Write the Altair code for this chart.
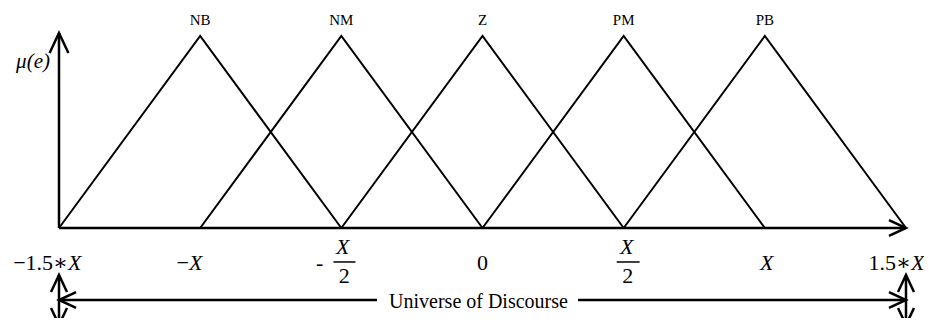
import altair as alt
import pandas as pd

# ---- membership functions (in units of X) ----
set_names = ["NB", "NM", "Z", "PM", "PB"]
left_feet = [-1.5, -1.0, -0.5, 0.0, 0.5]
peaks = [-1.0, -0.5, 0.0, 0.5, 1.0]
right_feet = [-0.5, 0.0, 0.5, 1.0, 1.5]
peak_mu = [1.0, 1.0, 1.0, 1.0, 1.0]
foot_mu = [0.0, 0.0, 0.0, 0.0, 0.0]

# ---- axis tick labels ----
tick_values = [-1.5, -1.0, -0.5, 0.0, 0.5, 1.0, 1.5]
tick_labels = ["−1.5∗X", "−X", "−X/2", "0", "X/2", "X", "1.5∗X"]

universe_label = "Universe of Discourse"
y_label = "μ(e)"

rows = []
for n, a, p, b, fm, pm in zip(set_names, left_feet, peaks, right_feet, foot_mu, peak_mu):
    rows += [
        {"set": n, "x": a, "mu": fm, "o": 0},
        {"set": n, "x": p, "mu": pm, "o": 1},
        {"set": n, "x": b, "mu": fm, "o": 2},
    ]
tri = pd.DataFrame(rows)

X = alt.Scale(domain=[-1.68064, 1.56375], nice=False, zero=False)
Y = alt.Scale(domain=[-0.46875, 1.14583], nice=False, zero=False)

def xe(f):
    return alt.X(f, type="quantitative", scale=X, axis=None)

def ye(f):
    return alt.Y(f, type="quantitative", scale=Y, axis=None)

FONT = "'Liberation Serif', 'Times New Roman', 'DejaVu Serif', serif"

tri_layer = alt.Chart(tri).mark_line(color="black", strokeWidth=2).encode(
    x=xe("x"), y=ye("mu"), detail="set:N", order="o:Q"
)

# axes lines
axes_df = pd.DataFrame({
    "seg": ["xaxis", "xaxis", "yaxis", "yaxis",
            "uL", "uL", "uR", "uR",
            "vL", "vL", "vR", "vR"],
    "x": [tick_values[0], tick_values[-1], tick_values[0], tick_values[0],
          tick_values[0], -0.3737, 0.3383, tick_values[-1],
          tick_values[0], tick_values[0], tick_values[-1], tick_values[-1]],
    "y": [0, 0, 0, 1.0156,
          -0.375, -0.375, -0.375, -0.375,
          -0.2448, -0.51, -0.2448, -0.51],
})
axes_layer = alt.Chart(axes_df).mark_line(color="black", strokeWidth=2.5).encode(
    x=xe("x"), y=ye("y"), detail="seg:N"
)

CHEV = "M -0.47 1 L 0 0 L 0.47 1"
arrows_df = pd.DataFrame({
    "x": [tick_values[0], tick_values[-1], tick_values[0], tick_values[-1],
          tick_values[0], tick_values[0], tick_values[-1], tick_values[-1]],
    "y": [1.0156, 0, -0.375, -0.375, -0.2448, -0.505, -0.2448, -0.505],
    "angle": [0, 90, 270, 90, 0, 180, 0, 180],
    "big": [1, 0, 0, 0, 0, 0, 0, 0],
})
arrow_big = alt.Chart(arrows_df).transform_filter("datum.big == 1").mark_point(
    shape=CHEV, filled=False, color="black", strokeWidth=2.5, opacity=1, size=1600
).encode(x=xe("x"), y=ye("y"), angle=alt.Angle("angle:Q", scale=None))
arrow_small = alt.Chart(arrows_df).transform_filter("datum.big == 0").mark_point(
    shape=CHEV, filled=False, color="black", strokeWidth=2.5, opacity=1, size=1156
).encode(x=xe("x"), y=ye("y"), angle=alt.Angle("angle:Q", scale=None))

# fraction bars
bars_df = pd.DataFrame({
    "seg": ["a", "a", "b", "b"],
    "x": [-0.528, -0.450, 0.4752, 0.5566],
    "y": [-0.177, -0.177, -0.177, -0.177],
})
bars_layer = alt.Chart(bars_df).mark_line(color="black", strokeWidth=1.5).encode(
    x=xe("x"), y=ye("y"), detail="seg:N"
)

# text annotations
ann = pd.DataFrame(
    [{"text": n, "x": p, "y": 1.081, "g": "set"} for n, p in zip(set_names, peaks)]
    + [
        {"text": y_label, "x": -1.592, "y": 0.865, "g": "mu"},
        {"text": "−1.5∗", "x": -1.468, "y": -0.182, "g": "r"},
        {"text": "X", "x": -1.468, "y": -0.182, "g": "li"},
        {"text": "−", "x": -1.0395, "y": -0.182, "g": "r"},
        {"text": "X", "x": -1.0395, "y": -0.182, "g": "li"},
        {"text": "-", "x": -0.577, "y": -0.182, "g": "c"},
        {"text": "X", "x": -0.495, "y": -0.099, "g": "ci"},
        {"text": "2", "x": -0.49, "y": -0.250, "g": "c"},
        {"text": tick_labels[3], "x": tick_values[3], "y": -0.182, "g": "c"},
        {"text": "X", "x": 0.511, "y": -0.099, "g": "ci"},
        {"text": "2", "x": 0.5145, "y": -0.250, "g": "c"},
        {"text": "X", "x": 1.007, "y": -0.182, "g": "ci"},
        {"text": "1.5∗", "x": 1.5177, "y": -0.182, "g": "r"},
        {"text": "X", "x": 1.5177, "y": -0.182, "g": "li"},
        {"text": universe_label, "x": -0.0142, "y": -0.3854, "g": "u"},
    ]
)

def txt(group, **kw):
    return alt.Chart(ann).transform_filter(f"datum.g == '{group}'").mark_text(
        font=FONT, color="black", baseline="middle", **kw
    ).encode(x=xe("x"), y=ye("y"), text="text:N")

text_layers = [
    txt("set", fontSize=15, align="center"),
    txt("mu", fontSize=21, align="center", fontStyle="italic"),
    txt("r", fontSize=22, align="right"),
    txt("li", fontSize=22, align="left", fontStyle="italic"),
    txt("c", fontSize=22, align="center"),
    txt("ci", fontSize=22, align="center", fontStyle="italic"),
    txt("u", fontSize=20, align="center"),
]

chart = alt.layer(
    tri_layer, axes_layer, arrow_big, arrow_small, bars_layer, *text_layers
).properties(
    width=916, height=310, padding=0, autosize="none"
).configure_view(stroke=None)

chart.save("out.html", embed_options={"renderer": "svg", "actions": False})
